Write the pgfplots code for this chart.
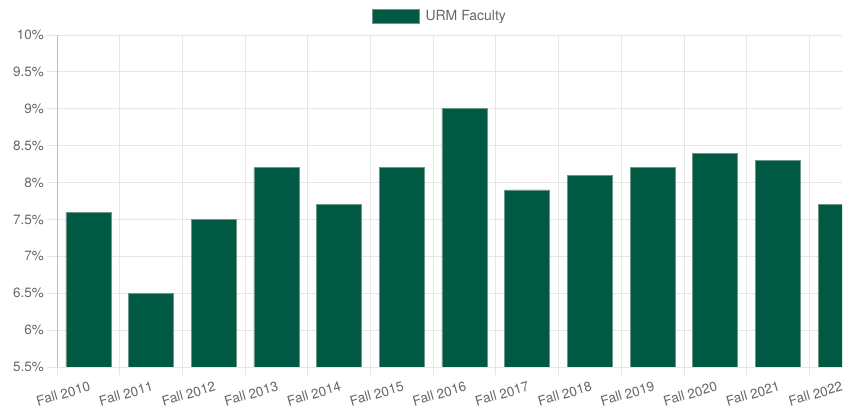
\documentclass[border=0pt]{standalone}
\usepackage{fontspec}
\setmainfont{TeX Gyre Heros}
\usepackage{pgfplots}
\pgfplotsset{compat=1.18}
\definecolor{bargreen}{RGB}{0,89,66}
\definecolor{bargreenedge}{RGB}{110,150,135}
\definecolor{txtgray}{RGB}{102,102,102}
\definecolor{gridgray}{RGB}{230,230,230}
\definecolor{axisgray}{RGB}{190,190,190}
\begin{document}
\begin{tikzpicture}[x=1pt,y=1pt]
\useasboundingbox (-57,-42) rectangle (795,367);
\clip (-57,-42) rectangle (785,367);
\begin{pgfinterruptboundingbox}
\begin{axis}[
  at={(0,0)}, anchor=south west,
  scale only axis,
  width=815pt, height=332pt,
  xmin=-0.5, xmax=12.5,
  ymin=5.5, ymax=10,
  axis x line=bottom, axis y line=left,
  x axis line style={-, draw=gridgray},
  y axis line style={-, draw=axisgray},
  xtick={0,...,12},
  xticklabels={Fall 2010,Fall 2011,Fall 2012,Fall 2013,Fall 2014,Fall 2015,Fall 2016,Fall 2017,Fall 2018,Fall 2019,Fall 2020,Fall 2021,Fall 2022},
  minor xtick={-0.5,0.5,...,12.5},
  ytick={5.5,6,6.5,7,7.5,8,8.5,9,9.5,10},
  yticklabels={5.5\%,6\%,6.5\%,7\%,7.5\%,8\%,8.5\%,9\%,9.5\%,10\%},
  xmajorgrids=false, xminorgrids=true, ymajorgrids=true,
  grid style={draw=gridgray, line width=0.8pt},
  minor grid style={draw=gridgray, line width=0.8pt},
  tick align=outside,
  major tick length=10pt, minor tick length=8pt,
  major x tick style={draw=none},
  minor x tick style={draw=gridgray, line width=0.8pt},
  major y tick style={draw=gridgray, line width=0.8pt},
  tick label style={font=\fontsize{13.5}{16}\selectfont, text=txtgray},
  xticklabel style={rotate=16, anchor=north east, inner sep=0pt, yshift=-4pt, xshift=-1pt},
  yticklabel style={anchor=east, inner sep=0pt, xshift=-3pt},
  legend style={at={(axis description cs:0.47,1.057)}, anchor=center, draw=none, fill=none,
    font=\fontsize{14}{16}\selectfont, text=txtgray, inner sep=0pt},
  legend image code/.code={\draw[fill=bargreen, draw=bargreenedge, line width=0.6pt] (0pt,-7pt) rectangle (47pt,7pt);\path[draw=none,fill=none] (47pt,0pt) -- (51pt,0pt);},
  clip=true,
]
\addplot[ybar, bar width=0.718, fill=bargreen, draw=bargreenedge, line width=0.6pt, bar shift=0pt]
  coordinates {(0,7.6) (1,6.5) (2,7.5) (3,8.2) (4,7.7) (5,8.2) (6,9.0) (7,7.9) (8,8.1) (9,8.2) (10,8.4) (11,8.3) (12,7.7)};
\addlegendentry{URM Faculty}
\end{axis}
\end{pgfinterruptboundingbox}
\end{tikzpicture}
\end{document}
